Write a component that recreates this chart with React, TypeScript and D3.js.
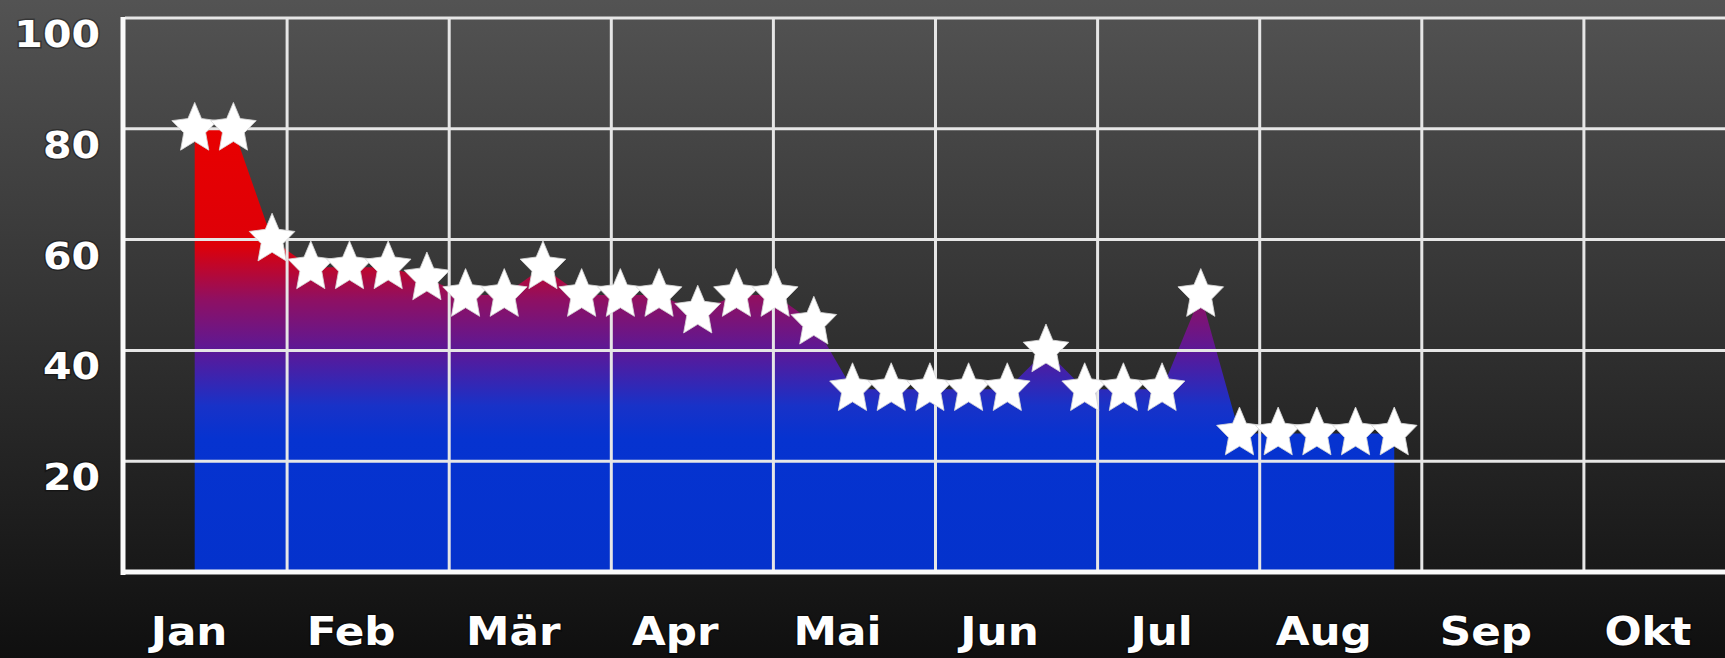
import React from 'react';
import * as d3 from 'd3';

// month ticks along the bottom
const months = ['Jan', 'Feb', 'Mär', 'Apr', 'Mai', 'Jun', 'Jul', 'Aug', 'Sep', 'Okt'];
// y axis labels (no label at 0)
const yTicks = [20, 40, 60, 80, 100];
// weekly values, one star each
const weekly = [80, 80, 60, 55, 55, 55, 53, 50, 50, 55, 50, 50, 50, 47, 50, 50, 45,
    33, 33, 33, 33, 33, 40, 33, 33, 33, 50, 25, 25, 25, 25, 25];
// first and last week position, in months from start of Jan
const firstWeek = 0.43;
const lastWeek = 7.83;

const W = 1725, H = 658;

const starPath = (R: number, ratio: number) => {
    const pts: [number, number][] = [];
    for (let i = 0; i < 10; i++) {
        const r = i % 2 === 0 ? R : R * ratio;
        const a = -Math.PI / 2 + i * Math.PI / 5;
        pts.push([Math.cos(a) * r, Math.sin(a) * r]);
    }
    return 'M' + pts.map(p => p[0].toFixed(2) + ',' + p[1].toFixed(2)).join('L') + 'Z';
};

const App = () => {
    const x = d3.scaleLinear().domain([0, 10]).range([125, 1746]);
    const y = d3.scaleLinear().domain([0, 100]).range([572, 18]);
    const xw = d3.scaleLinear().domain([0, weekly.length - 1]).range([x(firstWeek), x(lastWeek)]);

    const area = d3.area<number>()
        .x((d, i) => xw(i))
        .y0(y(0))
        .y1(d => y(d))
        .curve(d3.curveLinear);

    const star = starPath(24, 0.48);
    const font = '"DejaVu Sans", Verdana, sans-serif';
    const off = (v: number) => (y(v) - y(80)) / (y(0) - y(80));

    return (
        <svg width={W} height={H} style={{ position: 'absolute', left: 0, top: 0, display: 'block' }}>
            <defs>
                <linearGradient id="bg" x1="0" y1="0" x2="0" y2="1">
                    <stop offset="0%" stopColor="#535353" />
                    <stop offset="100%" stopColor="#0f0f0f" />
                </linearGradient>
                <linearGradient id="fill" gradientUnits="userSpaceOnUse" x1="0" y1={y(80)} x2="0" y2={y(0)}>
                    <stop offset="0" stopColor="#e80000" />
                    <stop offset={off(59)} stopColor="#de0008" />
                    <stop offset={off(49)} stopColor="#8e1064" />
                    <stop offset={off(39)} stopColor="#561a9c" />
                    <stop offset={off(30)} stopColor="#1832c8" />
                    <stop offset={off(24)} stopColor="#0633d0" />
                    <stop offset="1" stopColor="#0432cc" />
                </linearGradient>
            </defs>
            <rect x={0} y={0} width={W} height={H} fill="url(#bg)" />

            <path d={area(weekly) || ''} fill="url(#fill)" />

            {/* horizontal grid */}
            {yTicks.map(t => (
                <line key={'h' + t} x1={x(0)} x2={W} y1={y(t)} y2={y(t)} stroke="#e6e6e6" strokeWidth={3} />
            ))}
            {/* vertical grid */}
            {d3.range(1, 10).map(m => (
                <line key={'v' + m} x1={x(m)} x2={x(m)} y1={y(100)} y2={y(0)} stroke="#e6e6e6" strokeWidth={3} />
            ))}
            {/* axes */}
            <line x1={x(0) - 2} x2={x(0) - 2} y1={y(100) - 1} y2={y(0) + 3} stroke="#fafafa" strokeWidth={5} />
            <line x1={x(0) - 4} x2={W} y1={y(0)} y2={y(0)} stroke="#fafafa" strokeWidth={5} />

            {weekly.map((v, i) => (
                <path key={'s' + i} d={star} transform={`translate(${xw(i)},${y(v)}) scale(1,1.1)`}
                    fill="#ffffff" stroke="#d8d8d8" strokeWidth={0.8} />
            ))}

            {yTicks.map(t => (
                <text key={'yl' + t} transform={`translate(100,${y(t) + 29}) scale(1.08,1)`} textAnchor="end" fill="#ffffff"
                    fontFamily={font} fontWeight="bold" fontSize={38}
                    stroke="rgba(0,0,0,0.35)" strokeWidth={3} paintOrder="stroke">{t}</text>
            ))}
            {months.map((m, i) => (
                <text key={'m' + m} transform={`translate(${(x(i) + x(i + 1)) / 2 - 17},645) scale(1.12,1)`}
                    textAnchor="middle" fill="#ffffff"
                    fontFamily={font} fontWeight="bold" fontSize={39}
                    stroke="rgba(0,0,0,0.35)" strokeWidth={3} paintOrder="stroke">{m}</text>
            ))}
        </svg>
    );
};

export default App;
